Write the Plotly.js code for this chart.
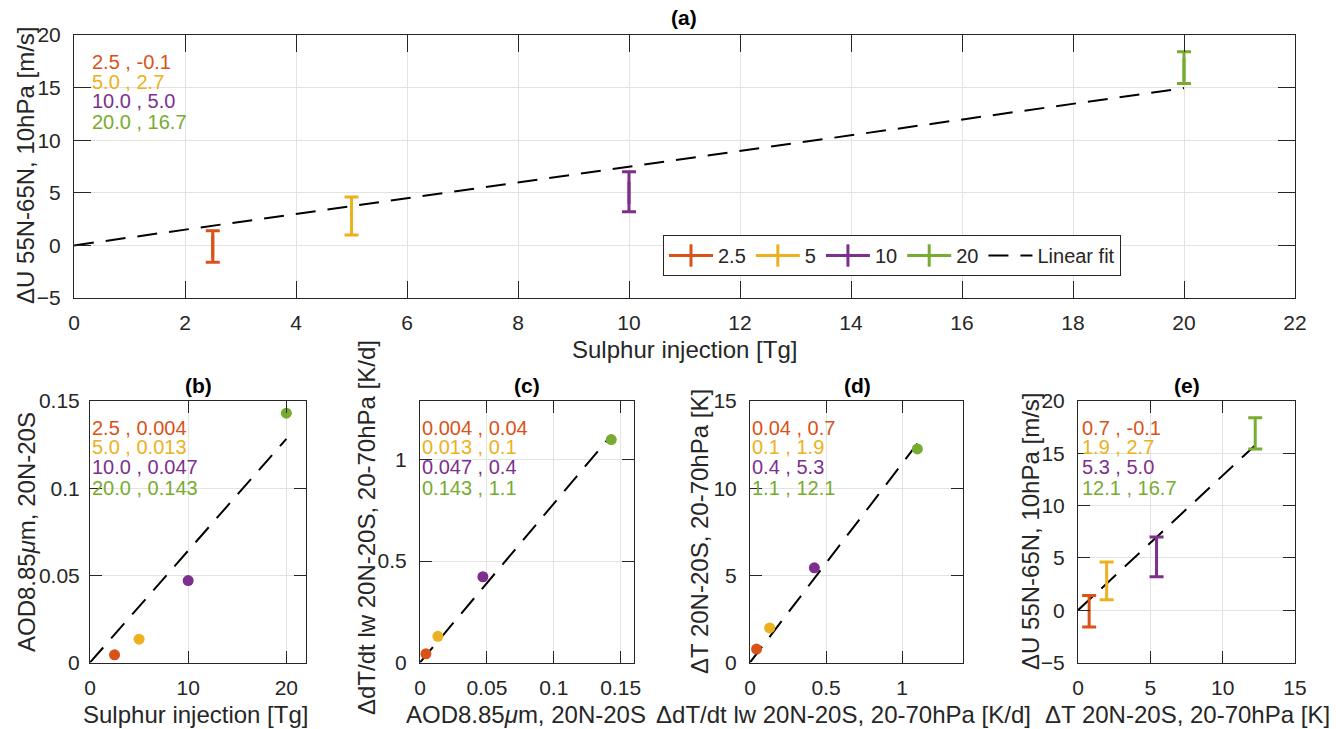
<!DOCTYPE html>
<html>
<head>
<meta charset="utf-8">
<script src="https://cdn.plot.ly/plotly-3.0.1.min.js"></script>
<style>html,body{margin:0;padding:0;background:#fff;}#chart{width:1336px;height:729px;}</style>
</head>
<body>
<div id="chart"></div>
<script>
// ---------------- data ----------------
var caseNames = ["2.5", "5", "10", "20"];
var sulphur = [2.5, 5, 10, 20];                 // Tg
var dU = [-0.1, 2.7, 5.0, 16.7];                // m/s
var dUerrPlus = [1.5, 1.9, 2.0, 1.7];
var dUerrMinus = [1.5, 1.7, 1.8, 1.3];
var aod = [0.0044, 0.0134, 0.047, 0.143];
var heating = [0.043, 0.129, 0.423, 1.10];      // K/d
var dT = [0.77, 1.98, 5.43, 12.25];             // K

var labelsA = ["2.5 , -0.1", "5.0 , 2.7", "10.0 , 5.0", "20.0 , 16.7"];
var labelsB = ["2.5 , 0.004", "5.0 , 0.013", "10.0 , 0.047", "20.0 , 0.143"];
var labelsC = ["0.004 , 0.04", "0.013 , 0.1", "0.047 , 0.4", "0.143 , 1.1"];
var labelsD = ["0.04 , 0.7", "0.1 , 1.9", "0.4 , 5.3", "1.1 , 12.1"];
var labelsE = ["0.7 , -0.1", "1.9 , 2.7", "5.3 , 5.0", "12.1 , 16.7"];

var colors = ["#D95319", "#EDB120", "#7E2F8E", "#77AC30"];

// ---------------- helpers ----------------
var W = 1336, H = 729;
function px(x){ return x / W; }
function py(y){ return 1 - y / H; }
var FONT = "Liberation Sans, Arial, Helvetica, sans-serif";
var AX = "#262626";

function fitThroughOrigin(xs, ys){
  var sxy = 0, sxx = 0;
  for (var i = 0; i < xs.length; i++){ sxy += xs[i]*ys[i]; sxx += xs[i]*xs[i]; }
  var k = sxy / sxx;
  var xmax = Math.max.apply(null, xs);
  return {x: [0, xmax], y: [0, k*xmax]};
}

var traces = [];
function fitTrace(xs, ys, xa, ya, show){
  var f = fitThroughOrigin(xs, ys);
  return {x: f.x, y: f.y, xaxis: xa, yaxis: ya, type: "scatter", mode: "lines",
    name: "Linear fit", showlegend: !!show,
    line: {color: "#000", width: 2, dash: "20px,12px"}, hoverinfo: "skip"};
}

// (a) error bars
for (var i = 0; i < 4; i++){
  traces.push({x: [sulphur[i]], y: [dU[i]], xaxis: "x", yaxis: "y", type: "scatter",
    mode: "lines+markers", name: caseNames[i], showlegend: true,
    line: {color: colors[i], width: 3},
    marker: {symbol: "line-ns", size: 16, color: colors[i], line: {width: 3, color: colors[i]}},
    error_y: {type: "data", symmetric: false, array: [dUerrPlus[i]], arrayminus: [dUerrMinus[i]],
      color: colors[i], thickness: 3, width: 7}});
}
traces.push(fitTrace(sulphur, dU, "x", "y", true));

// (b)
traces.push(fitTrace(sulphur, aod, "x2", "y2", false));
traces.push({x: sulphur, y: aod, xaxis: "x2", yaxis: "y2", type: "scatter", mode: "markers",
  showlegend: false, marker: {color: colors, size: 11}});
// (c)
traces.push(fitTrace(aod, heating, "x3", "y3", false));
traces.push({x: aod, y: heating, xaxis: "x3", yaxis: "y3", type: "scatter", mode: "markers",
  showlegend: false, marker: {color: colors, size: 11}});
// (d)
traces.push(fitTrace(heating, dT, "x4", "y4", false));
traces.push({x: heating, y: dT, xaxis: "x4", yaxis: "y4", type: "scatter", mode: "markers",
  showlegend: false, marker: {color: colors, size: 11}});
// (e)
traces.push(fitTrace(dT, dU, "x5", "y5", false));
for (var j = 0; j < 4; j++){
  traces.push({x: [dT[j]], y: [dU[j]], xaxis: "x5", yaxis: "y5", type: "scatter",
    mode: "markers", showlegend: false, marker: {size: 0.1, color: colors[j]},
    error_y: {type: "data", symmetric: false, array: [dUerrPlus[j]], arrayminus: [dUerrMinus[j]],
      color: colors[j], thickness: 3, width: 7}});
}

function axis(opts){
  return {
    showline: true, linecolor: AX, linewidth: 1, mirror: "ticks",
    ticks: "inside", ticklen: opts.ticklen || 12, tickcolor: AX, tickwidth: 1,
    showgrid: true, gridcolor: "#e3e3e3", gridwidth: 1, zeroline: false,
    tickfont: {family: FONT, size: 21, color: AX},
    ticklabelstandoff: opts.standoff || 4,
    range: opts.range, tickvals: opts.tickvals, domain: opts.domain,
    anchor: opts.anchor, fixedrange: true
  };
}

var botDom = [py(662.5), py(401)];
var layout = {
  width: W, height: H, margin: {l: 0, r: 0, t: 0, b: 0},
  paper_bgcolor: "#fff", plot_bgcolor: "#fff",
  font: {family: FONT, color: AX},
  showlegend: true,
  legend: {orientation: "h", x: px(663), y: py(235), xanchor: "left", yanchor: "top",
    bordercolor: AX, borderwidth: 1, bgcolor: "#fff",
    font: {family: FONT, size: 20, color: AX}, itemwidth: 44},
  xaxis: axis({range: [0, 22], tickvals: [0,2,4,6,8,10,12,14,16,18,20,22],
    domain: [px(74), px(1295)], anchor: "y", ticklen: 17, standoff: 6}),
  yaxis: axis({range: [-5, 20], tickvals: [-5,0,5,10,15,20],
    domain: [py(298), py(35)], anchor: "x", ticklen: 17, standoff: 8}),
  xaxis2: axis({range: [0, 22], tickvals: [0,10,20], domain: [px(90), px(306)], anchor: "y2", standoff: 6}),
  yaxis2: axis({range: [0, 0.15], tickvals: [0,0.05,0.1,0.15], domain: botDom, anchor: "x2", standoff: 5}),
  xaxis3: axis({range: [0, 0.16], tickvals: [0,0.05,0.1,0.15], domain: [px(420), px(634)], anchor: "y3", standoff: 6}),
  yaxis3: axis({range: [0, 1.29], tickvals: [0,0.5,1], domain: botDom, anchor: "x3", standoff: 8}),
  xaxis4: axis({range: [0, 1.4], tickvals: [0,0.5,1], domain: [px(750), px(963)], anchor: "y4", standoff: 6}),
  yaxis4: axis({range: [0, 15], tickvals: [0,5,10,15], domain: botDom, anchor: "x4", standoff: 8}),
  xaxis5: axis({range: [0, 15], tickvals: [0,5,10,15], domain: [px(1078), px(1295)], anchor: "y5", standoff: 6}),
  yaxis5: axis({range: [-5, 20], tickvals: [-5,0,5,10,15,20], domain: botDom, anchor: "x5", standoff: 8}),
  annotations: []
};

// panel titles
var titles = [["(a)", 684, 17], ["(b)", 198, 385], ["(c)", 527, 385], ["(d)", 857, 385], ["(e)", 1187, 385]];
titles.forEach(function(t){
  layout.annotations.push({text: "<b>" + t[0] + "</b>", x: px(t[1]), y: py(t[2]), xref: "paper", yref: "paper",
    xanchor: "center", yanchor: "middle", showarrow: false, font: {family: FONT, size: 21, color: "#000"}});
});

// axis titles
var xTitles = [
  ["Sulphur injection [Tg]", 684, 349],
  ["Sulphur injection [Tg]", 195, 714],
  ["AOD8.85<i>μ</i>m, 20N-20S", 526, 714],
  ["ΔdT/dt lw 20N-20S, 20-70hPa [K/d]", 843, 714],
  ["ΔT 20N-20S, 20-70hPa [K]", 1187, 714]
];
xTitles.forEach(function(t){
  layout.annotations.push({text: t[0], x: px(t[1]), y: py(t[2]), xref: "paper", yref: "paper",
    xanchor: "center", yanchor: "middle", showarrow: false, font: {family: FONT, size: 24, color: AX}});
});
var yTitles = [
  ["ΔU 55N-65N, 10hPa [m/s]", 25, 166],
  ["AOD8.85<i>μ</i>m, 20N-20S", 26, 532],
  ["ΔdT/dt lw 20N-20S, 20-70hPa [K/d]", 366, 528],
  ["ΔT 20N-20S, 20-70hPa [K]", 699, 532],
  ["ΔU 55N-65N, 10hPa [m/s]", 1030, 532]
];
yTitles.forEach(function(t){
  layout.annotations.push({text: t[0], x: px(t[1]), y: py(t[2]), xref: "paper", yref: "paper",
    xanchor: "center", yanchor: "middle", textangle: -90, showarrow: false,
    font: {family: FONT, size: 24, color: AX}});
});

// value labels
function addLabels(labels, x0, ys){
  for (var k = 0; k < labels.length; k++){
    layout.annotations.push({text: labels[k], x: px(x0), y: py(ys[k]), xref: "paper", yref: "paper",
      xanchor: "left", yanchor: "middle", showarrow: false, borderpad: 0,
      font: {family: FONT, size: 20, color: colors[k]}});
  }
}
addLabels(labelsA, 91, [62, 82, 101, 122]);
var smallYs = [428, 447, 467, 488];
addLabels(labelsB, 91, smallYs);
addLabels(labelsC, 421, smallYs);
addLabels(labelsD, 751, smallYs);
addLabels(labelsE, 1081, smallYs);

Plotly.newPlot("chart", traces, layout, {staticPlot: true, displayModeBar: false});
</script>
</body>
</html>
